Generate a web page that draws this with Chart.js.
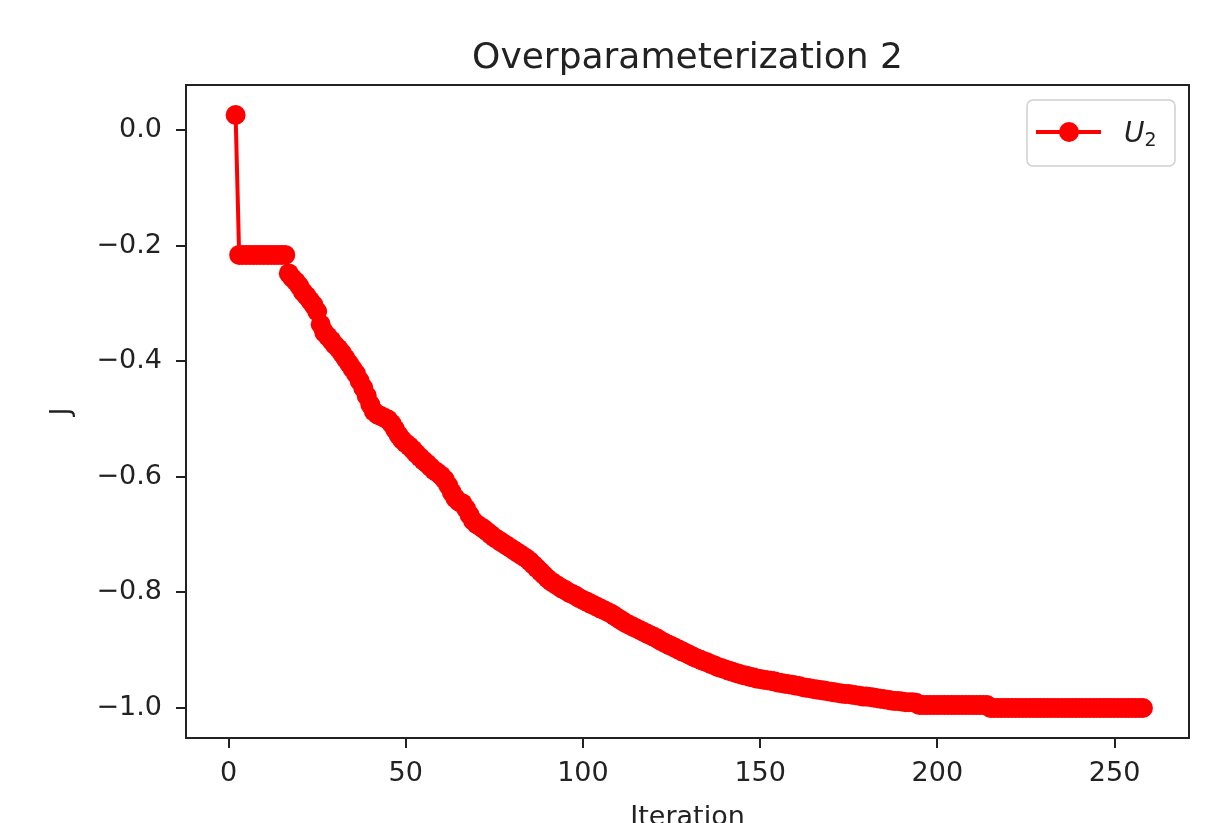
<!DOCTYPE html>
<html>
<head>
<meta charset="utf-8">
<script src="https://cdn.jsdelivr.net/npm/chart.js@4/dist/chart.umd.min.js"></script>
<style>
  body { margin: 0; background: #fff; }
</style>
</head>
<body>
<canvas id="chart" width="1211" height="823"></canvas>
<script>
// data: J per iteration, starting at iteration 2
const firstIteration = 2
const jValues = [
    0.026, -0.216, -0.216, -0.216, -0.216, -0.216, -0.216, -0.216, -0.216,          // 2-10
    -0.216, -0.216, -0.216, -0.216, -0.216, -0.216, -0.248, -0.256, -0.262, -0.270,  // 11-20
    -0.280, -0.287, -0.295, -0.303, -0.314, -0.336, -0.350, -0.357, -0.364, -0.372,
    -0.378, -0.386, -0.395, -0.404, -0.413, -0.422, -0.434, -0.446, -0.460, -0.475,
    -0.487, -0.492, -0.495, -0.498, -0.501, -0.508, -0.518, -0.528, -0.536, -0.542,
    -0.547, -0.553, -0.560, -0.566, -0.572, -0.577, -0.583, -0.589, -0.593, -0.598,
    -0.605, -0.615, -0.627, -0.637, -0.643, -0.646, -0.655, -0.666, -0.676, -0.682,
    -0.686, -0.690, -0.695, -0.700, -0.705, -0.709, -0.713, -0.717, -0.721, -0.725,
    -0.729, -0.733, -0.737, -0.741, -0.746, -0.752, -0.758, -0.764, -0.770, -0.776,
    -0.781, -0.785, -0.789, -0.793, -0.796, -0.800, -0.803, -0.806, -0.810, -0.813, // 91-100
    -0.816, -0.819, -0.822, -0.825, -0.828, -0.831, -0.834, -0.837, -0.841, -0.845,
    -0.849, -0.853, -0.856, -0.859, -0.862, -0.865, -0.868, -0.871, -0.874, -0.877,
    -0.880, -0.884, -0.887, -0.890, -0.893, -0.896, -0.899, -0.902, -0.905, -0.908,
    -0.911, -0.914, -0.916, -0.919, -0.921, -0.924, -0.926, -0.929, -0.931, -0.933,
    -0.935, -0.937, -0.939, -0.941, -0.943, -0.944, -0.946, -0.947, -0.949, -0.950,
    -0.951, -0.952, -0.953, -0.954, -0.956, -0.957, -0.958, -0.959, -0.960, -0.961,
    -0.962, -0.964, -0.965, -0.966, -0.967, -0.968, -0.969, -0.970, -0.971, -0.972,
    -0.973, -0.974, -0.975, -0.976, -0.976, -0.977, -0.978, -0.979, -0.980, -0.980,
    -0.981, -0.982, -0.983, -0.984, -0.985, -0.986, -0.987, -0.988, -0.988, -0.989,
    -0.990, -0.990, -0.990, -0.991, -0.995, -0.995, -0.995, -0.995, -0.995, -0.995, // 191-200
    -0.995, -0.995, -0.995, -0.995, -0.995, -0.995, -0.995, -0.995, -0.995, -0.995,
    -0.995, -0.995, -0.995, -0.995, -1.000, -1.000, -1.000, -1.000, -1.000, -1.000,
    -1.000, -1.000, -1.000, -1.000, -1.000, -1.000, -1.000, -1.000, -1.000, -1.000,
    -1.000, -1.000, -1.000, -1.000, -1.000, -1.000, -1.000, -1.000, -1.000, -1.000,
    -1.000, -1.000, -1.000, -1.000, -1.000, -1.000, -1.000, -1.000, -1.000, -1.000,
    -1.000, -1.000, -1.000, -1.000, -1.000, -1.000, -1.000, -1.000                  // 251-258
]

const xTicks = [0, 50, 100, 150, 200, 250]
const xTickLabels = ['0', '50', '100', '150', '200', '250']
const yTicks = [0, -0.2, -0.4, -0.6, -0.8, -1.0]
const yTickLabels = ['0.0', '\u22120.2', '\u22120.4', '\u22120.6', '\u22120.8', '\u22121.0']

const titleText = 'Overparameterization 2'
const xLabel = 'Iteration'
const yLabel = 'J'

const FONT = "'DejaVu Sans', sans-serif"
const INK = '#222'

const points = jValues.map((v, k) => ({x: firstIteration + k, y: v}))

// box around the axes + title centred over the axes (matplotlib style)
const framePlugin = {
    id: 'frame',
    afterDraw(chart) {
        const {ctx, chartArea: a} = chart
        ctx.save()
        ctx.strokeStyle = INK
        ctx.lineWidth = 2
        ctx.strokeRect(a.left, a.top, a.right - a.left, a.bottom - a.top)

        ctx.fillStyle = INK
        ctx.font = '36px ' + FONT
        ctx.textAlign = 'center'
        ctx.textBaseline = 'alphabetic'
        ctx.fillText(titleText, (a.left + a.right) / 2, a.top - 17)
        ctx.restore()
    }
}

// legend: line + marker, then U with subscript 2
const legendPlugin = {
    id: 'mplLegend',
    afterDraw(chart) {
        const ctx = chart.ctx
        const a = chart.chartArea
        const w = 148, h = 66
        const x = a.right - 14 - w, y = a.top + 15
        ctx.save()
        ctx.fillStyle = 'rgba(255,255,255,0.8)'
        ctx.strokeStyle = '#d0d0d0'
        ctx.lineWidth = 1.5
        ctx.beginPath()
        ctx.roundRect(x, y, w, h, 6)
        ctx.fill()
        ctx.stroke()

        const cy = y + 32
        ctx.strokeStyle = 'red'
        ctx.lineWidth = 4
        ctx.beginPath()
        ctx.moveTo(x + 9, cy)
        ctx.lineTo(x + 74, cy)
        ctx.stroke()
        ctx.fillStyle = 'red'
        ctx.beginPath()
        ctx.arc(x + 42, cy, 10, 0, Math.PI * 2)
        ctx.fill()

        ctx.fillStyle = INK
        ctx.textBaseline = 'alphabetic'
        ctx.font = 'italic 28px ' + FONT
        ctx.fillText('U', x + 97, cy + 10)
        const uw = ctx.measureText('U').width
        ctx.font = '19px ' + FONT
        ctx.fillText('2', x + 97 + uw, cy + 14)
        ctx.restore()
    }
}

new Chart(document.getElementById('chart'), {
    type: 'line',
    data: {
        datasets: [{
            label: 'U2',
            data: points,
            borderColor: 'red',
            backgroundColor: 'red',
            borderWidth: 4,
            pointRadius: 10,
            pointBorderWidth: 0,
            pointBackgroundColor: 'red',
            tension: 0
        }]
    },
    options: {
        responsive: false,
        animation: false,
        layout: {padding: {left: 0, right: 22, top: 85, bottom: 0}},
        plugins: {
            legend: {display: false},
            tooltip: {enabled: false},
            title: {display: false}
        },
        scales: {
            x: {
                type: 'linear',
                min: -12,
                max: 271,
                afterBuildTicks: scale => { scale.ticks = xTicks.map(v => ({value: v})) },
                afterFit: scale => { scale.height = 85 },
                ticks: {
                    color: INK,
                    padding: 10,
                    maxRotation: 0,
                    font: {family: FONT, size: 27},
                    callback: (value) => xTickLabels[xTicks.indexOf(value)]
                },
                grid: {drawOnChartArea: false, drawTicks: true, tickLength: 10, color: INK, lineWidth: 2},
                border: {display: true, color: INK, width: 2},
                title: {
                    display: true,
                    text: xLabel,
                    color: INK,
                    font: {family: FONT, size: 27, lineHeight: 0.4},
                    padding: {top: 0, bottom: 0}
                }
            },
            y: {
                type: 'linear',
                min: -1.052,
                max: 0.078,
                afterBuildTicks: scale => { scale.ticks = yTicks.map(v => ({value: v})) },
                afterFit: scale => { scale.width = 186 },
                ticks: {
                    color: INK,
                    padding: 14,
                    font: {family: FONT, size: 27},
                    callback: (value) => yTickLabels[yTicks.indexOf(value)]
                },
                grid: {drawOnChartArea: false, drawTicks: true, tickLength: 10, color: INK, lineWidth: 2},
                border: {display: true, color: INK, width: 2},
                title: {
                    display: true,
                    text: yLabel,
                    color: INK,
                    font: {family: FONT, size: 27, lineHeight: 1.2},
                    padding: {top: 46, bottom: 46}
                }
            }
        }
    },
    plugins: [framePlugin, legendPlugin]
})
</script>
</body>
</html>
